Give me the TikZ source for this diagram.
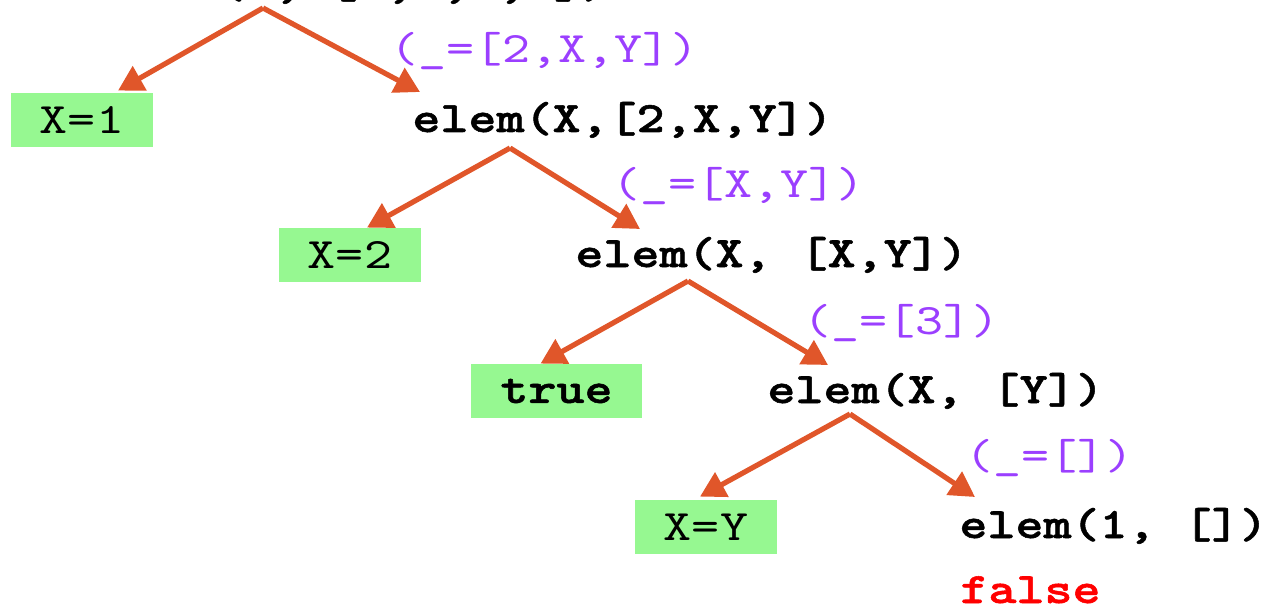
\documentclass[tikz,border=0pt]{standalone}
\usepackage{fontspec}
\usetikzlibrary{arrows.meta,calc}

\definecolor{edgered}{RGB}{224,86,42}
\definecolor{bindpurple}{RGB}{155,63,255}
\definecolor{ansgreen}{RGB}{150,248,145}

% wide typewriter text, close to Courier
\newfontfamily\goalfont[Extension=.otf, FakeStretch=1.23, FakeBold=1.2]{lmmonolt10-bold}
\newfontfamily\plainfont[Extension=.otf, FakeStretch=1.23]{lmmono10-regular}
\newcommand{\codesize}{\fontsize{21.7}{24}\selectfont}

\begin{document}
\begin{tikzpicture}[x=0.5pt, y=-0.5pt,
  goal/.style={anchor=base west, inner sep=0pt, font=\codesize\goalfont},
  bind/.style={anchor=base west, inner sep=0pt, text=bindpurple, font=\codesize\plainfont},
  answer/.style={fill=ansgreen, minimum width=71pt, minimum height=27pt, inner sep=0pt, font=\codesize\plainfont},
  edge/.style={draw=edgered, line width=2.6pt, -{Triangle[length=12.5pt,width=13.5pt]}}]
  \useasboundingbox (0,0) rectangle (1273,609);

  % goals
  \node[goal] (root) at (105,-2) {elem(X, [1,2,X,Y])};
  \node[goal] (g1) at (412,132) {elem(X,[2,X,Y])};
  \node[goal] (g2) at (575,267) {elem(X, [X,Y])};
  \node[goal] (g3) at (767,403) {elem(X, [Y])};
  \node[goal] (g4) at (959,538) {elem(1, [])};
  \node[goal, text=red] (fail) at (960,603) {false};

  % answers
  \node[answer] (a1) at (82,120) {X=1};
  \node[answer] (a2) at (350,255) {X=2};
  \node[answer, minimum width=85.5pt, font=\codesize\goalfont] (a3) at (556.5,391) {true};
  \node[answer] (a4) at (706,527) {X=Y};

  % bindings of the tail
  \node[bind] (b1) at (390,63) {(\_=[2,X,Y])};
  \node[bind] (b2) at (612,198) {(\_=[X,Y])};
  \node[bind] (b3) at (803,334) {(\_=[3])};
  \node[bind] (b4) at (965,469) {(\_=[])};

  % forks
  \coordinate (f0) at ($(root.base west)+(158,10)$);
  \coordinate (f1) at ($(g1.base west)+(98,16)$);
  \coordinate (f2) at ($(g2.base west)+(113,14)$);
  \coordinate (f3) at ($(g3.base west)+(83,11)$);

  \draw[edge] (f0) -- ($(a1.north)+(36,-2)$);
  \draw[edge] (f0) -- ($(g1.base west)+(8,-40)$);
  \draw[edge] (f1) -- ($(a2.north)+(17,0)$);
  \draw[edge] (f1) -- ($(g2.base west)+(65,-38)$);
  \draw[edge] (f2) -- ($(a3.north)+(-16,0)$);
  \draw[edge] (f2) -- ($(g3.base west)+(61,-38)$);
  \draw[edge] (f3) -- ($(a4.north)+(-6,-3)$);
  \draw[edge] (f3) -- ($(g4.base west)+(16,-41)$);
\end{tikzpicture}
\end{document}
